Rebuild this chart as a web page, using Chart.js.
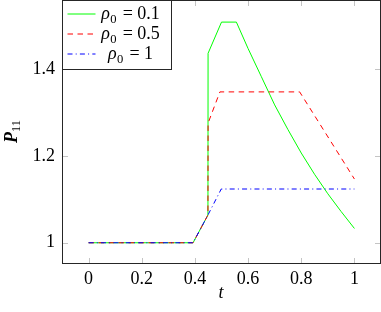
<!DOCTYPE html>
<html>
<head>
<meta charset="utf-8">
<script src="https://cdn.jsdelivr.net/npm/chart.js@4/dist/chart.umd.min.js"></script>
<style>
  html, body { margin: 0; padding: 0; background: #fff; }
  #wrap { width: 381px; height: 312px; }
</style>
</head>
<body>
<div id="wrap"><canvas id="chart"></canvas></div>
<script>
// series
const tLow = [0, 0.393, 0.449, 0.4495, 0.5, 0.556, 0.6, 0.65, 0.7, 0.75, 0.8, 0.85, 0.9, 0.95, 1];
const pLow = [1, 1, 1.064, 1.437, 1.509, 1.509, 1.448, 1.383, 1.318, 1.261, 1.207, 1.158, 1.113, 1.072, 1.033];

const tMid = [0, 0.393, 0.449, 0.4495, 0.494, 0.794, 1];
const pMid = [1, 1, 1.064, 1.276, 1.348, 1.348, 1.147];

const tHigh = [0, 0.393, 0.449, 0.499, 1];
const pHigh = [1, 1, 1.064, 1.124, 1.124];

const legendLabels = ['0.1', '0.5', '1'];
const xTicks = [0, 0.2, 0.4, 0.6, 0.8, 1];
const xTickLabels = ['0', '0.2', '0.4', '0.6', '0.8', '1'];
const yTicks = [1, 1.2, 1.4];
const yTickLabels = ['1', '1.2', '1.4'];

const SERIF = "'Liberation Serif', 'DejaVu Serif', serif";
const toXY = (ts, ps) => ts.map((t, i) => ({ x: t, y: ps[i] }));

const lineStyles = [
  { color: '#00ff00', dash: [] },
  { color: '#ff0000', dash: [5.5, 4.5] },
  { color: '#0000ff', dash: [5, 3.2, 1, 3.2] },
];

// inward grey tick marks on all four sides
const tickMarks = {
  id: 'tickMarks',
  beforeDatasetsDraw(chart) {
    const { ctx, chartArea: a, scales: { x, y } } = chart;
    ctx.save();
    ctx.strokeStyle = '#c4c4c4';
    ctx.lineWidth = 1;
    ctx.beginPath();
    xTicks.forEach(v => {
      const px = Math.round(x.getPixelForValue(v)) + 0.5;
      ctx.moveTo(px, a.bottom); ctx.lineTo(px, a.bottom - 6);
      ctx.moveTo(px, a.top); ctx.lineTo(px, a.top + 6);
    });
    yTicks.forEach(v => {
      const py = Math.round(y.getPixelForValue(v)) + 0.5;
      ctx.moveTo(a.left, py); ctx.lineTo(a.left + 6, py);
      ctx.moveTo(a.right, py); ctx.lineTo(a.right - 6, py);
    });
    ctx.stroke();
    ctx.restore();
  }
};

function drawRho(ctx, x, yBase, value, draw) {
  ctx.font = 'italic 18px ' + SERIF;
  if (draw) ctx.fillText('\u03c1', x, yBase);
  x += ctx.measureText('\u03c1').width + 0.5;
  ctx.font = '12.6px ' + SERIF;
  if (draw) ctx.fillText('0', x, yBase + 4);
  x += ctx.measureText('0').width + 6;
  ctx.font = '18px ' + SERIF;
  if (draw) ctx.fillText('=', x, yBase);
  x += ctx.measureText('=').width + 4.5;
  if (draw) ctx.fillText(value, x, yBase);
  return x + ctx.measureText(value).width;
}

const decor = {
  id: 'decor',
  afterDraw(chart) {
    const { ctx, chartArea: a } = chart;
    ctx.save();
    // axis frame
    ctx.strokeStyle = '#262626';
    ctx.lineWidth = 1;
    ctx.strokeRect(a.left + 0.5, a.top + 0.5, a.right - a.left - 1, a.bottom - a.top - 1);

    // legend
    const lx = a.left + 0.5, ly = a.top + 0.5;
    ctx.fillStyle = '#fff';
    ctx.fillRect(lx, ly, 109, 69);
    ctx.strokeRect(lx, ly, 109, 69);
    ctx.fillStyle = '#000';
    ctx.textBaseline = 'alphabetic';
    legendLabels.forEach((lab, i) => {
      const yy = a.top + 14 + i * 20;
      ctx.save();
      ctx.lineWidth = 1;
      ctx.strokeStyle = lineStyles[i].color;
      ctx.setLineDash(lineStyles[i].dash);
      ctx.beginPath();
      ctx.moveTo(a.left + 5.5, yy);
      ctx.lineTo(a.left + 33.5, yy);
      ctx.stroke();
      ctx.restore();
      const w = drawRho(ctx, 0, 0, lab, false);
      drawRho(ctx, a.left + 68.5 - w / 2, yy + 4.5, lab, true);
    });

    // x title
    ctx.font = 'italic 18px ' + SERIF;
    ctx.textAlign = 'center';
    ctx.fillText('t', (a.left + a.right) / 2 - 0.5, 298);

    // y title, rotated
    ctx.translate(17, 131.5);
    ctx.rotate(-Math.PI / 2);
    ctx.textAlign = 'left';
    ctx.font = 'bold italic 18px ' + SERIF;
    const pw = ctx.measureText('P').width;
    ctx.font = '12.6px ' + SERIF;
    const sw = ctx.measureText('11').width;
    const sx = -(pw + sw) / 2;
    ctx.font = 'bold italic 18px ' + SERIF;
    ctx.fillText('P', sx, 0);
    ctx.font = '12.6px ' + SERIF;
    ctx.fillText('11', sx + pw, 2.5);
    ctx.restore();
  }
};

new Chart(document.getElementById('chart'), {
  type: 'line',
  data: {
    datasets: [
      { data: toXY(tLow, pLow), order: 3 },
      { data: toXY(tMid, pMid), order: 2 },
      { data: toXY(tHigh, pHigh), order: 1 },
    ].map((d, i) => ({
      ...d,
      borderColor: lineStyles[i].color,
      borderDash: lineStyles[i].dash,
      borderWidth: 1,
      pointRadius: 0,
      tension: 0,
      fill: false,
    })),
  },
  options: {
    responsive: true,
    maintainAspectRatio: false,
    animation: false,
    layout: { padding: 0 },
    plugins: { legend: { display: false }, tooltip: { enabled: false } },
    scales: {
      x: {
        type: 'linear',
        min: -0.1,
        max: 1.1,
        grid: { display: false, drawTicks: false },
        border: { display: false },
        afterBuildTicks: s => { s.ticks = xTicks.map(v => ({ value: v })); },
        afterFit: s => { s.height = 48; s.paddingLeft = 0; s.paddingRight = 0; },
        ticks: {
          padding: 4,
          color: '#000',
          font: { family: SERIF, size: 18 },
          maxRotation: 0,
          callback: v => xTickLabels[xTicks.indexOf(v)],
        },
      },
      y: {
        min: 0.951,
        max: 1.56,
        grid: { display: false, drawTicks: false },
        border: { display: false },
        afterBuildTicks: s => { s.ticks = yTicks.map(v => ({ value: v })); },
        afterFit: s => { s.width = 62; s.paddingTop = 0; s.paddingBottom = 0; },
        ticks: {
          padding: 7,
          color: '#000',
          font: { family: SERIF, size: 18 },
          callback: v => yTickLabels[yTicks.indexOf(v)],
        },
      },
    },
  },
  plugins: [tickMarks, decor],
});
</script>
</body>
</html>
